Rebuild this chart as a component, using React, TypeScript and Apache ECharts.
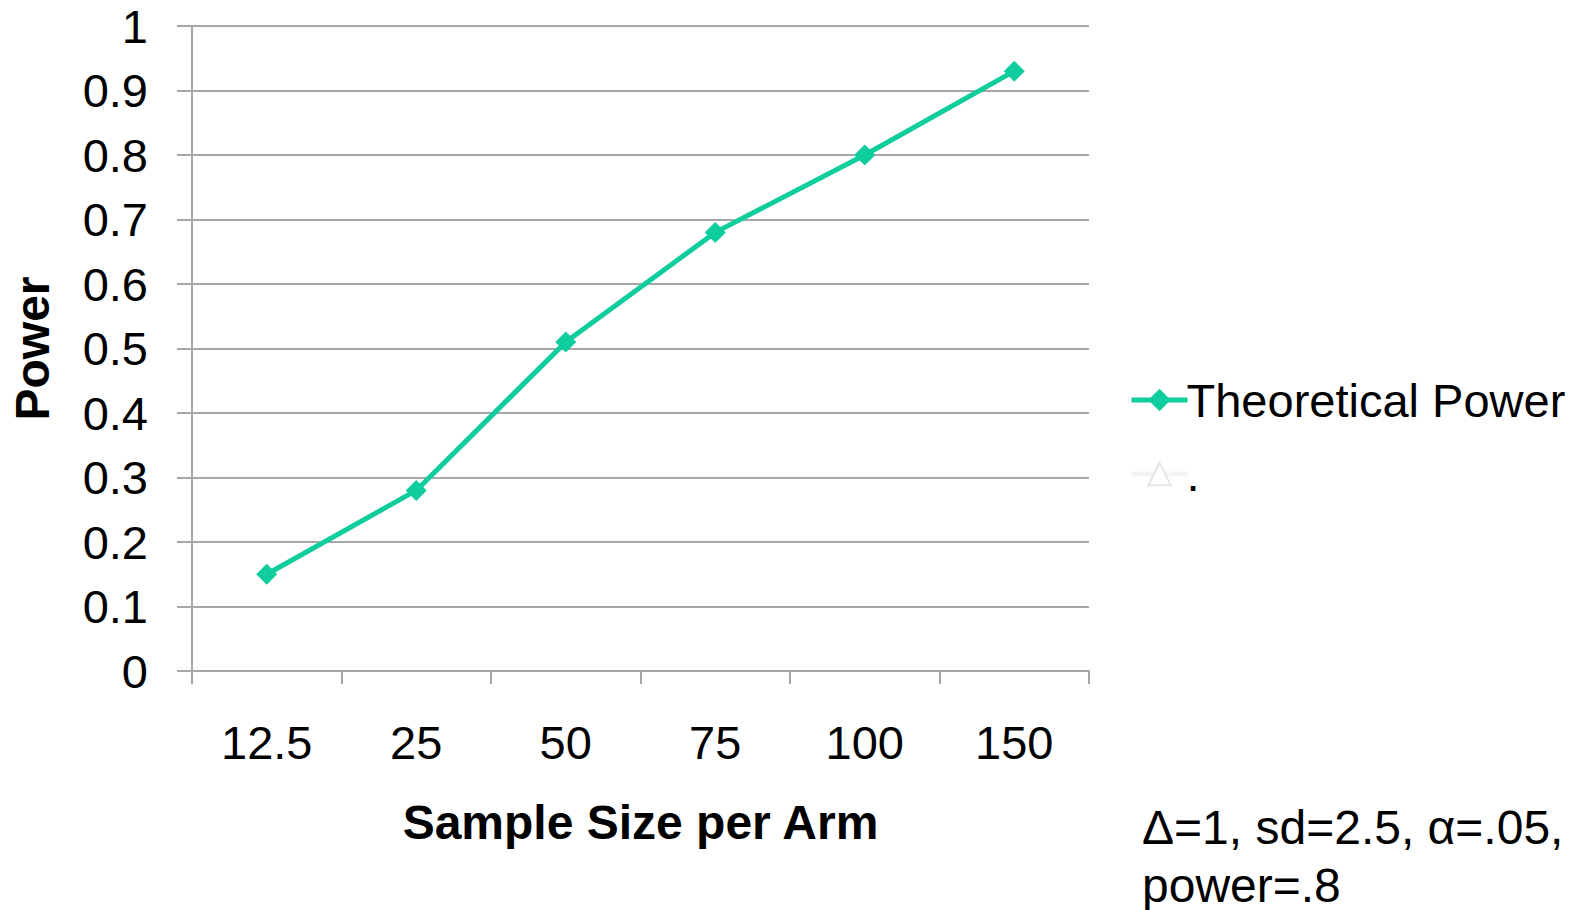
import React, { useEffect, useRef } from "react";
import * as echarts from "echarts";

const categories = ["12.5", "25", "50", "75", "100", "150"];
const theoreticalPower = [0.15, 0.28, 0.51, 0.68, 0.8, 0.93];
const secondSeries: number[] = [];
const yTicks = { min: 0, max: 1, interval: 0.1 };
const annotation = ["Δ=1, sd=2.5, α=.05,", "power=.8"];

const FONT = "'Liberation Sans', Arial, Helvetica, sans-serif";
const TEAL = "#10cd9e";
const GRID = "#a6a6a6";

export default function App() {
  const ref = useRef<HTMLDivElement>(null);
  useEffect(() => {
    if (!ref.current) return;
    const chart = echarts.init(ref.current, null, { renderer: "svg" });
    chart.setOption({
      animation: false,
      backgroundColor: "#ffffff",
      textStyle: { fontFamily: FONT },
      grid: { left: 189, right: 498, top: 26, bottom: 239, containLabel: false },
      legend: {
        orient: "vertical",
        left: 1124,
        top: 368,
        itemWidth: 56,
        itemHeight: 28,
        itemGap: 20,
        lineStyle: { width: 5 },
        textStyle: { fontFamily: FONT, fontSize: 47, color: "#000", lineHeight: 54, padding: [0, 0, 0, -6] },
        data: [{ name: "Theoretical Power" }, { name: "." }],
      },
      xAxis: {
        type: "category",
        data: categories,
        boundaryGap: true,
        name: "Sample Size per Arm",
        nameLocation: "middle",
        nameGap: 127,
        nameTextStyle: { fontFamily: FONT, fontSize: 48, fontWeight: "bold", color: "#000", verticalAlign: "top" },
        axisLine: { show: true, lineStyle: { color: GRID, width: 2 } },
        axisTick: { show: true, length: 13, lineStyle: { color: GRID, width: 2 } },
        axisLabel: { fontFamily: FONT, fontSize: 47, color: "#000", margin: 48 },
        splitLine: { show: false },
      },
      yAxis: {
        type: "value",
        min: yTicks.min,
        max: yTicks.max,
        interval: yTicks.interval,
        name: "Power",
        nameLocation: "middle",
        nameGap: 136,
        nameRotate: 90,
        nameTextStyle: { fontFamily: FONT, fontSize: 48, fontWeight: "bold", color: "#000" },
        axisLine: { show: true, lineStyle: { color: GRID, width: 2 } },
        axisTick: { show: true, length: 15, lineStyle: { color: GRID, width: 2 } },
        axisLabel: { fontFamily: FONT, fontSize: 47, color: "#000", margin: 44 },
        splitLine: { show: true, lineStyle: { color: GRID, width: 2 } },
      },
      series: [
        {
          name: "Theoretical Power",
          type: "line",
          data: theoreticalPower,
          symbol: "diamond",
          symbolSize: 21,
          lineStyle: { color: TEAL, width: 5 },
          itemStyle: { color: TEAL },
        },
        {
          name: ".",
          type: "line",
          data: secondSeries,
          symbol: "triangle",
          symbolSize: 20,
          lineStyle: { color: "#f4f4f4", width: 6 },
          itemStyle: { color: "#ffffff", borderColor: "#e6e6e6", borderWidth: 1 },
        },
      ],
      graphic: [
        {
          type: "text",
          left: 1142,
          top: 798,
          style: {
            text: annotation.join("\n"),
            fontFamily: FONT,
            fontSize: 48,
            lineHeight: 58,
            fill: "#000",
          },
        },
      ],
    });
    return () => chart.dispose();
  }, []);
  return (
    <div
      ref={ref}
      style={{ position: "fixed", left: 0, top: 0, width: 1587, height: 910 }}
    />
  );
}
